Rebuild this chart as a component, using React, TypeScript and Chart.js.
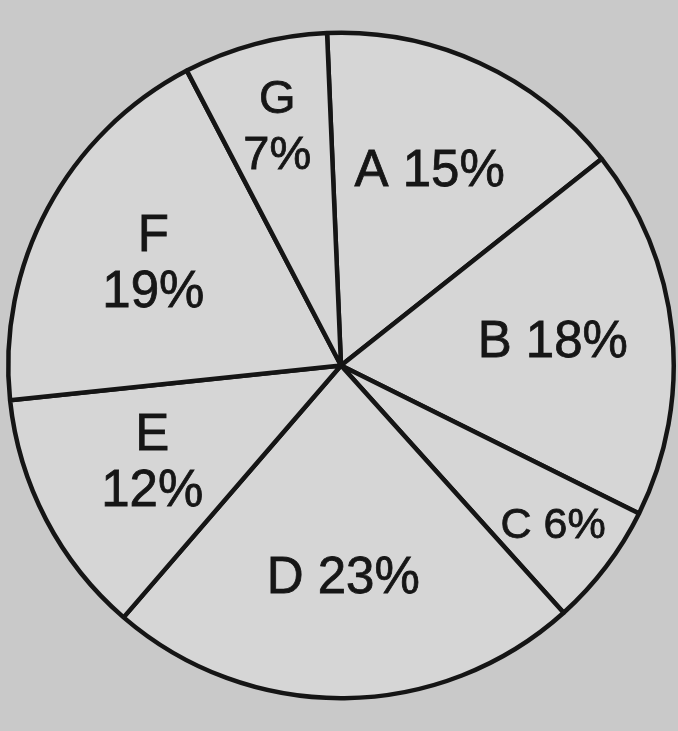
import React, { useEffect, useRef } from "react";
import { Chart, registerables } from "chart.js";

Chart.register(...registerables);

const categories = ["A", "B", "C", "D", "E", "F", "G"];
const percents = [15, 18, 6, 23, 12, 19, 7];
const twoLine = [false, false, false, false, true, true, true];

const labelPlugin = {
  id: "sliceLabels",
  afterDatasetsDraw(chart: any) {
    const ctx = chart.ctx;
    const meta = chart.getDatasetMeta(0);
    ctx.save();
    ctx.fillStyle = "#161616";
    ctx.strokeStyle = "#161616";
    ctx.lineWidth = 0.8;
    ctx.textAlign = "center";
    ctx.textBaseline = "middle";
    meta.data.forEach((arc: any, i: number) => {
      const { x, y, startAngle, endAngle, outerRadius } = arc.getProps(
        ["x", "y", "startAngle", "endAngle", "outerRadius"],
        true
      );
      const small = percents[i] < 10;
      const oneLineSmall = small && !twoLine[i];
      ctx.font = `${oneLineSmall ? 43 : small ? 47 : 51}px 'Liberation Sans', Arial, sans-serif`;
      const mid = (startAngle + endAngle) / 2;
      const frac = small ? (twoLine[i] ? 0.74 : 0.8) : 0.64;
      const r = outerRadius * frac;
      const px = x + Math.cos(mid) * r;
      const py = y + Math.sin(mid) * r;
      const name = categories[i];
      const pct = `${percents[i]}%`;
      const draw = (t: string, tx: number, ty: number) => {
        ctx.fillText(t, tx, ty);
        ctx.strokeText(t, tx, ty);
      };
      if (twoLine[i]) {
        draw(name, px, py - 28);
        draw(pct, px, py + 28);
      } else {
        draw(`${name} ${pct}`, px, py);
      }
    });
    ctx.restore();
  },
};

export default function App() {
  const ref = useRef<HTMLCanvasElement | null>(null);
  useEffect(() => {
    document.body.style.margin = "0";
    document.body.style.background = "#c9c9c9";
    if (!ref.current) return;
    const chart = new Chart(ref.current, {
      type: "pie",
      data: {
        labels: categories,
        datasets: [
          {
            data: percents,
            backgroundColor: "#d6d6d6",
            borderColor: "#151515",
            borderWidth: 4.5,
            borderAlign: "center",
          },
        ],
      },
      options: {
        responsive: false,
        animation: false,
        rotation: -2.4,
        layout: { padding: { left: 6, right: 2, top: 4, bottom: 4 } },
        plugins: {
          legend: { display: false },
          tooltip: { enabled: false },
          title: { display: false },
        },
      },
      plugins: [labelPlugin],
    });
    return () => chart.destroy();
  }, []);
  return (
    <div style={{ width: 678, height: 731, background: "#c9c9c9" }}>
      <canvas ref={ref} width={678} height={731} style={{ display: "block" }} />
    </div>
  );
}
